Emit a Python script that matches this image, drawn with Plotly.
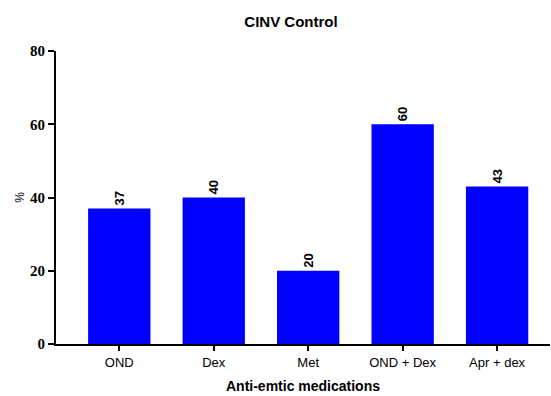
import plotly.graph_objects as go

categories = ["OND", "Dex", "Met", "OND + Dex", "Apr + dex"]
values = [37, 40, 20, 60, 43]
y_ticks = [0, 20, 40, 60, 80]

fig = go.Figure(go.Bar(
    x=categories, y=values,
    marker=dict(color="#0000ff", line=dict(width=0)),
    width=0.66,
    text=[str(v) for v in values],
    textposition="outside",
    textangle=-90,
    cliponaxis=False,
    textfont=dict(family="Liberation Sans", size=13, color="black", weight="bold"),
))

fig.update_layout(
    width=551, height=396,
    margin=dict(l=56, r=1, t=51, b=52, autoexpand=False),
    plot_bgcolor="white", paper_bgcolor="white",
    showlegend=False,
    title=dict(text="CINV Control", x=291 / 551, xanchor="center", xref="container",
               y=1 - 22 / 396, yref="container", yanchor="middle", automargin=False,
               font=dict(family="Liberation Sans", size=15, color="black", weight="bold")),
    font=dict(family="Liberation Sans", color="black"),
)
fig.update_xaxes(
    range=[-0.67, 4.56], automargin=False,
    showline=True, linecolor="black", linewidth=2,
    ticks="outside", ticklen=5, tickwidth=2, tickcolor="black",
    tickfont=dict(family="Liberation Sans", size=13, color="black"),
    title=dict(text="Anti-emtic medications", standoff=13,
               font=dict(family="Liberation Sans", size=14, color="black", weight="bold")),
)
fig.update_yaxes(
    range=[0, 80], tickvals=y_ticks, automargin=False,
    showline=True, linecolor="black", linewidth=2,
    ticks="outside", ticklen=6, tickwidth=2, tickcolor="black",
    showgrid=False, zeroline=False,
    tickfont=dict(family="Liberation Serif", size=15, color="black", weight="bold"),
    title=dict(text="%", standoff=3,
               font=dict(family="Liberation Sans", size=12, color="black")),
)

fig.write_html("out.html", config={"displayModeBar": False},
               post_script="document.body.style.margin='0';document.body.style.padding='0';")
